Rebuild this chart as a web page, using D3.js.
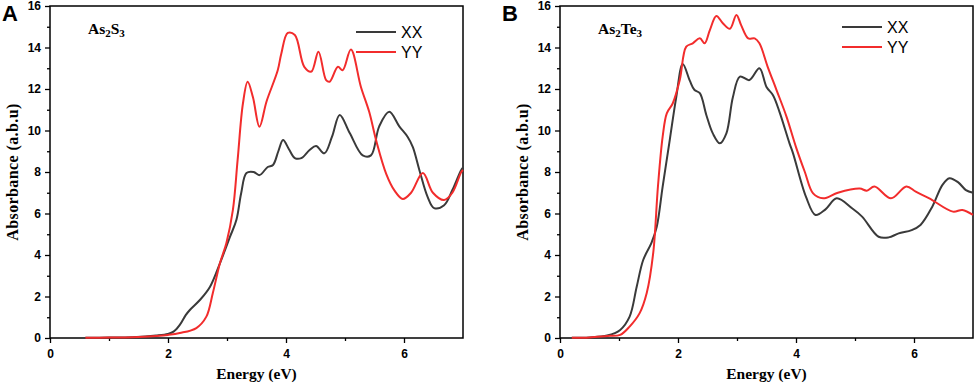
<!DOCTYPE html>
<html>
<head>
<meta charset="utf-8">
<script src="https://cdn.jsdelivr.net/npm/d3@7"></script>
<style>
  body { margin: 0; background: #fff; }
  svg { display: block; }
  .tick text { font-family: Arial, "Liberation Sans", sans-serif; font-weight: bold; font-size: 12px; }
</style>
</head>
<body>
<svg id="chart" width="976" height="385"></svg>
<script>
// Panel A: As2S3
const a_xx = [[0.6,0.01],[1.0,0.02],[1.4,0.04],[1.8,0.12],[2.0,0.2],[2.1,0.32],[2.2,0.63],[2.3,1.1],[2.37,1.35],[2.54,1.83],[2.71,2.46],[2.88,3.6],[3.05,4.87],[3.16,5.7],[3.24,6.98],[3.33,7.95],[3.45,8.0],[3.55,7.85],[3.69,8.24],[3.78,8.34],[3.87,9.0],[3.95,9.54],[4.05,9.1],[4.15,8.67],[4.26,8.67],[4.4,9.06],[4.51,9.25],[4.65,8.9],[4.78,9.7],[4.91,10.75],[5.08,9.88],[5.3,8.8],[5.44,8.8],[5.58,10.2],[5.75,10.9],[5.92,10.2],[6.06,9.7],[6.15,9.2],[6.26,8.1],[6.4,6.8],[6.51,6.26],[6.68,6.4],[6.82,7.13],[6.97,8.1],[7.0,8.2]]
const a_yy = [[0.6,0.01],[1.0,0.02],[1.4,0.04],[1.8,0.1],[2.0,0.15],[2.2,0.24],[2.48,0.48],[2.65,1.03],[2.76,2.17],[2.88,3.6],[2.99,4.58],[3.1,6.17],[3.18,8.58],[3.27,11.3],[3.35,12.35],[3.44,11.6],[3.55,10.18],[3.67,11.4],[3.86,12.9],[3.92,13.7],[4.03,14.7],[4.15,14.6],[4.31,13.07],[4.43,12.84],[4.55,13.8],[4.68,12.43],[4.74,12.35],[4.88,13.07],[4.96,12.9],[5.1,13.9],[5.27,12.1],[5.41,10.9],[5.53,9.5],[5.7,7.9],[5.84,7.1],[5.98,6.7],[6.12,7.0],[6.32,7.95],[6.49,7.0],[6.68,6.65],[6.82,7.0],[6.97,8.0],[7.0,8.1]]

// Panel B: As2Te3
const b_xx = [[0.2,0.01],[0.5,0.03],[0.8,0.12],[1.02,0.39],[1.18,1.03],[1.3,2.47],[1.41,3.76],[1.55,4.58],[1.64,5.36],[1.74,7.3],[1.86,9.54],[1.97,11.6],[2.08,13.2],[2.2,12.4],[2.28,11.95],[2.37,11.8],[2.48,10.75],[2.59,9.86],[2.71,9.38],[2.82,9.86],[2.93,11.6],[3.05,12.6],[3.21,12.43],[3.38,13.0],[3.5,12.1],[3.61,11.7],[3.72,10.9],[3.89,9.38],[3.95,8.9],[4.17,6.8],[4.33,5.93],[4.5,6.2],[4.69,6.73],[4.95,6.25],[5.12,5.85],[5.4,4.88],[5.57,4.85],[5.74,5.04],[5.96,5.2],[6.11,5.45],[6.31,6.33],[6.48,7.37],[6.6,7.7],[6.75,7.5],[6.88,7.13],[7.0,7.0]]
const b_yy = [[0.2,0.01],[0.5,0.03],[0.8,0.1],[1.02,0.15],[1.18,0.55],[1.35,1.2],[1.47,2.17],[1.58,4.1],[1.66,7.3],[1.74,9.7],[1.81,10.83],[1.91,11.3],[2.03,12.43],[2.14,14.04],[2.25,14.2],[2.37,14.44],[2.45,14.2],[2.54,14.84],[2.65,15.52],[2.76,15.17],[2.88,14.9],[2.99,15.57],[3.07,15.08],[3.19,14.44],[3.3,14.44],[3.38,14.2],[3.52,13.07],[3.67,11.95],[3.84,10.66],[4.0,9.2],[4.15,8.0],[4.29,6.97],[4.46,6.73],[4.71,7.0],[5.08,7.2],[5.2,7.1],[5.33,7.3],[5.61,6.73],[5.87,7.3],[6.03,7.05],[6.26,6.73],[6.66,6.09],[6.82,6.17],[7.0,5.93]]

const yTicks = [0, 2, 4, 6, 8, 10, 12, 14, 16]
const xTicks = [0, 2, 4, 6]
const seriesNames = ["XX", "YY"]
const colors = ["#3a3a3a", "#f22c2c"]

const panels = [
  { letter: "A", left: 50, letterX: 2, compound: ["As", "2", "S", "3"], data: [a_xx, a_yy], legendX: 356, legendY: 32 },
  { letter: "B", left: 560, letterX: 502, compound: ["As", "2", "Te", "3"], data: [b_xx, b_yy], legendX: 842, legendY: 27 }
]

const svg = d3.select("#chart")
const plotTop = 6, plotBottom = 338, plotW = 413

panels.forEach(function(p) {
  const g = svg.append("g")
  const x = d3.scaleLinear().domain([0, 7]).range([p.left, p.left + plotW])
  const y = d3.scaleLinear().domain([0, 16]).range([plotBottom, plotTop])

  // frame
  g.append("rect")
    .attr("x", p.left).attr("y", plotTop)
    .attr("width", plotW).attr("height", plotBottom - plotTop)
    .attr("fill", "none").attr("stroke", "#000").attr("stroke-width", 1.5)

  // axes, major + minor ticks
  g.append("g").attr("transform", "translate(" + p.left + ",0)")
    .call(d3.axisLeft(y).tickValues(d3.range(1, 16, 2)).tickSize(3).tickFormat(""))
    .call(s => s.select(".domain").remove())
  g.append("g").attr("transform", "translate(" + p.left + ",0)")
    .call(d3.axisLeft(y).tickValues(yTicks).tickSize(5).tickPadding(4).tickFormat(d3.format("d")))
    .call(s => s.select(".domain").remove())
  g.append("g").attr("transform", "translate(0," + plotBottom + ")")
    .call(d3.axisBottom(x).tickValues([1, 3, 5]).tickSize(3).tickFormat(""))
    .call(s => s.select(".domain").remove())
  g.append("g").attr("transform", "translate(0," + plotBottom + ")")
    .call(d3.axisBottom(x).tickValues(xTicks).tickSize(5).tickPadding(6).tickFormat(d3.format("d")))
    .call(s => s.select(".domain").remove())
  g.selectAll(".tick line").attr("stroke-width", 1.3)

  // curves
  const line = d3.line()
    .x(d => x(d[0])).y(d => y(d[1]))
    .curve(d3.curveCatmullRom.alpha(0.5))
  p.data.forEach(function(d, i) {
    g.append("path").datum(d)
      .attr("d", line)
      .attr("fill", "none")
      .attr("stroke", colors[i])
      .attr("stroke-width", 2)
  })

  // legend
  seriesNames.forEach(function(name, i) {
    const ly = p.legendY + i * 20
    g.append("line")
      .attr("x1", p.legendX).attr("x2", p.legendX + 40)
      .attr("y1", ly).attr("y2", ly)
      .attr("stroke", colors[i]).attr("stroke-width", 2)
    g.append("text")
      .attr("x", p.legendX + 45).attr("y", ly + 6)
      .attr("font-family", "Arial, 'Liberation Sans', sans-serif")
      .attr("font-size", 16)
      .text(name)
  })

  // compound label
  const c = g.append("text")
    .attr("x", p.left + 38).attr("y", 34)
    .attr("font-family", "'Times New Roman', 'Liberation Serif', serif")
    .attr("font-weight", "bold").attr("font-size", 15.5)
  c.append("tspan").text(p.compound[0])
  c.append("tspan").attr("font-size", 11).attr("dy", 3).text(p.compound[1])
  c.append("tspan").attr("dy", -3).text(p.compound[2])
  c.append("tspan").attr("font-size", 11).attr("dy", 3).text(p.compound[3])

  // panel letter
  g.append("text")
    .attr("x", p.letterX).attr("y", 21)
    .attr("font-family", "Arial, 'Liberation Sans', sans-serif")
    .attr("font-weight", "bold").attr("font-size", 22)
    .text(p.letter)

  // axis titles
  g.append("text")
    .attr("transform", "translate(" + (p.left - 32) + "," + ((plotTop + plotBottom) / 2) + ") rotate(-90)")
    .attr("text-anchor", "middle")
    .attr("font-family", "'Times New Roman', 'Liberation Serif', serif")
    .attr("font-weight", "bold").attr("font-size", 16)
    .attr("letter-spacing", 0.4)
    .text("Absorbance (a.b.u)")
  g.append("text")
    .attr("x", p.left + plotW / 2).attr("y", 379)
    .attr("text-anchor", "middle")
    .attr("font-family", "'Times New Roman', 'Liberation Serif', serif")
    .attr("font-weight", "bold").attr("font-size", 15.5)
    .text("Energy (eV)")
})
</script>
</body>
</html>
